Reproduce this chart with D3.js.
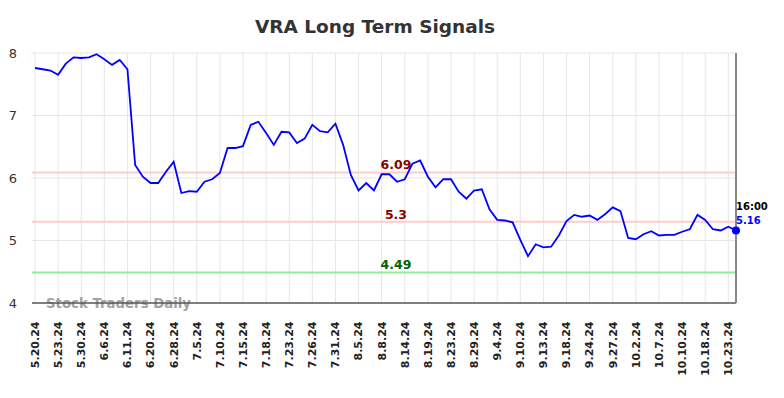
<!DOCTYPE html>
<html>
<head>
<meta charset="utf-8">
<script src="https://cdn.jsdelivr.net/npm/d3@7"></script>
<style>
  body { margin: 0; background: #fff; }
  svg { display: block; font-family: "DejaVu Sans", sans-serif; }
</style>
</head>
<body>
<script>
// closing prices, one per trading day
const prices = [
  7.76, 7.74, 7.72, 7.65, 7.83, 7.93, 7.92, 7.93, 7.98, 7.90,
  7.81, 7.89, 7.74, 6.21, 6.02, 5.92, 5.92, 6.10, 6.26, 5.76,
  5.79, 5.78, 5.94, 5.98, 6.08, 6.48, 6.48, 6.51, 6.85, 6.90,
  6.72, 6.53, 6.74, 6.73, 6.56, 6.63, 6.85, 6.75, 6.73, 6.87,
  6.53, 6.05, 5.80, 5.92, 5.80, 6.06, 6.06, 5.94, 5.98, 6.23,
  6.28, 6.02, 5.85, 5.98, 5.98, 5.78, 5.67, 5.80, 5.82, 5.50,
  5.33, 5.32, 5.29, 5.01, 4.75, 4.94, 4.89, 4.90, 5.08, 5.31,
  5.41, 5.38, 5.40, 5.33, 5.42, 5.53, 5.47, 5.04, 5.02, 5.10,
  5.15, 5.08, 5.09, 5.09, 5.14, 5.18, 5.41, 5.33, 5.18, 5.16,
  5.22, 5.16
];

// date labels, one every third trading day
const tickLabels = [
  "5.20.24", "5.23.24", "5.30.24", "6.6.24", "6.11.24", "6.20.24", "6.28.24",
  "7.5.24", "7.10.24", "7.15.24", "7.18.24", "7.23.24", "7.26.24", "7.31.24",
  "8.5.24", "8.8.24", "8.14.24", "8.19.24", "8.23.24", "8.29.24", "9.4.24",
  "9.10.24", "9.13.24", "9.18.24", "9.24.24", "9.27.24", "10.2.24", "10.7.24",
  "10.10.24", "10.18.24", "10.23.24"
];
const tickStep = 3;

const yTicks = [4, 5, 6, 7, 8];

const signalValues = [6.09, 5.3, 4.49];
const signalLabels = ["6.09", "5.3", "4.49"];

const lastTime = "16:00";

const w = 784;
const h = 398;
const plotL = 35, plotR = 736, plotT = 53, plotB = 303;

const svg = d3.select("body").append("svg")
  .attr("width", w)
  .attr("height", h);

const x = d3.scaleLinear().domain([0, prices.length - 1]).range([plotL, plotR]);
const y = d3.scaleLinear().domain([4, 8]).range([plotB, plotT]);

// title
svg.append("text")
  .attr("x", 375)
  .attr("y", 33)
  .attr("text-anchor", "middle")
  .attr("font-size", 18.5)
  .attr("font-weight", "bold")
  .attr("fill", "#333")
  .text("VRA Long Term Signals");

// grid
const tickIdx = tickLabels.map((d, i) => i * tickStep);
svg.append("g")
  .selectAll("line")
  .data(tickIdx)
  .enter()
  .append("line")
  .attr("x1", d => x(d)).attr("x2", d => x(d))
  .attr("y1", plotT).attr("y2", plotB)
  .attr("stroke", "#e6e6e6")
  .attr("stroke-width", 1);

svg.append("g")
  .selectAll("line")
  .data(yTicks.slice(1))
  .enter()
  .append("line")
  .attr("x1", plotL - 3).attr("x2", plotR)
  .attr("y1", d => y(d)).attr("y2", d => y(d))
  .attr("stroke", "#e6e6e6")
  .attr("stroke-width", 1);

// y axis labels
svg.append("g")
  .selectAll("text")
  .data(yTicks)
  .enter()
  .append("text")
  .attr("x", 13)
  .attr("y", d => y(d))
  .attr("dy", "0.35em")
  .attr("text-anchor", "middle")
  .attr("font-size", 13)
  .attr("fill", "#333")
  .text(d => d);

// signal lines
const signalColors = ["#ffcccc", "#ffcccc", "#90ee90"];
const labelColors = ["#8b0000", "#8b0000", "#006400"];
svg.append("g")
  .selectAll("line")
  .data(signalValues)
  .enter()
  .append("line")
  .attr("x1", plotL - 3).attr("x2", plotR)
  .attr("y1", d => y(d)).attr("y2", d => y(d))
  .attr("stroke", (d, i) => signalColors[i])
  .attr("stroke-width", 2);

svg.append("g")
  .selectAll("text")
  .data(signalValues)
  .enter()
  .append("text")
  .attr("x", 396)
  .attr("y", d => y(d) - 3)
  .attr("text-anchor", "middle")
  .attr("font-size", 12.5)
  .attr("font-weight", "bold")
  .attr("fill", (d, i) => labelColors[i])
  .text((d, i) => signalLabels[i]);

// watermark
svg.append("text")
  .attr("x", 46)
  .attr("y", 307.5)
  .attr("font-size", 13.3)
  .attr("font-weight", "bold")
  .attr("fill", "#999")
  .attr("opacity", 0.9)
  .text("Stock Traders Daily");

// bottom axis and right edge
svg.append("line")
  .attr("x1", plotL - 3).attr("x2", plotR)
  .attr("y1", plotB).attr("y2", plotB)
  .attr("stroke", "#555")
  .attr("stroke-width", 1.5);

svg.append("line")
  .attr("x1", plotR).attr("x2", plotR)
  .attr("y1", plotT).attr("y2", plotB)
  .attr("stroke", "#888")
  .attr("stroke-width", 2);

// x labels
svg.append("g")
  .selectAll("text")
  .data(tickLabels)
  .enter()
  .append("text")
  .attr("transform", (d, i) => `translate(${x(i * tickStep)},${plotB + 18.5}) rotate(-90)`)
  .attr("dy", "0.35em")
  .attr("text-anchor", "end")
  .attr("font-size", 11)
  .attr("font-weight", "bold")
  .attr("fill", "#222")
  .text(d => d);

// price line
const line = d3.line()
  .x((d, i) => x(i))
  .y(d => y(d));

svg.append("path")
  .datum(prices)
  .attr("d", line)
  .attr("fill", "none")
  .attr("stroke", "blue")
  .attr("stroke-width", 1.8);

// last point
const lastI = prices.length - 1;
svg.append("circle")
  .attr("cx", x(lastI))
  .attr("cy", y(prices[lastI]))
  .attr("r", 4)
  .attr("fill", "blue");

svg.append("text")
  .attr("x", x(lastI))
  .attr("y", 210)
  .attr("font-size", 10)
  .attr("font-weight", "bold")
  .attr("fill", "#000")
  .text(lastTime);

svg.append("text")
  .attr("x", x(lastI))
  .attr("y", 224)
  .attr("font-size", 10)
  .attr("font-weight", "bold")
  .attr("fill", "blue")
  .text(prices[lastI].toFixed(2));
</script>
</body>
</html>
